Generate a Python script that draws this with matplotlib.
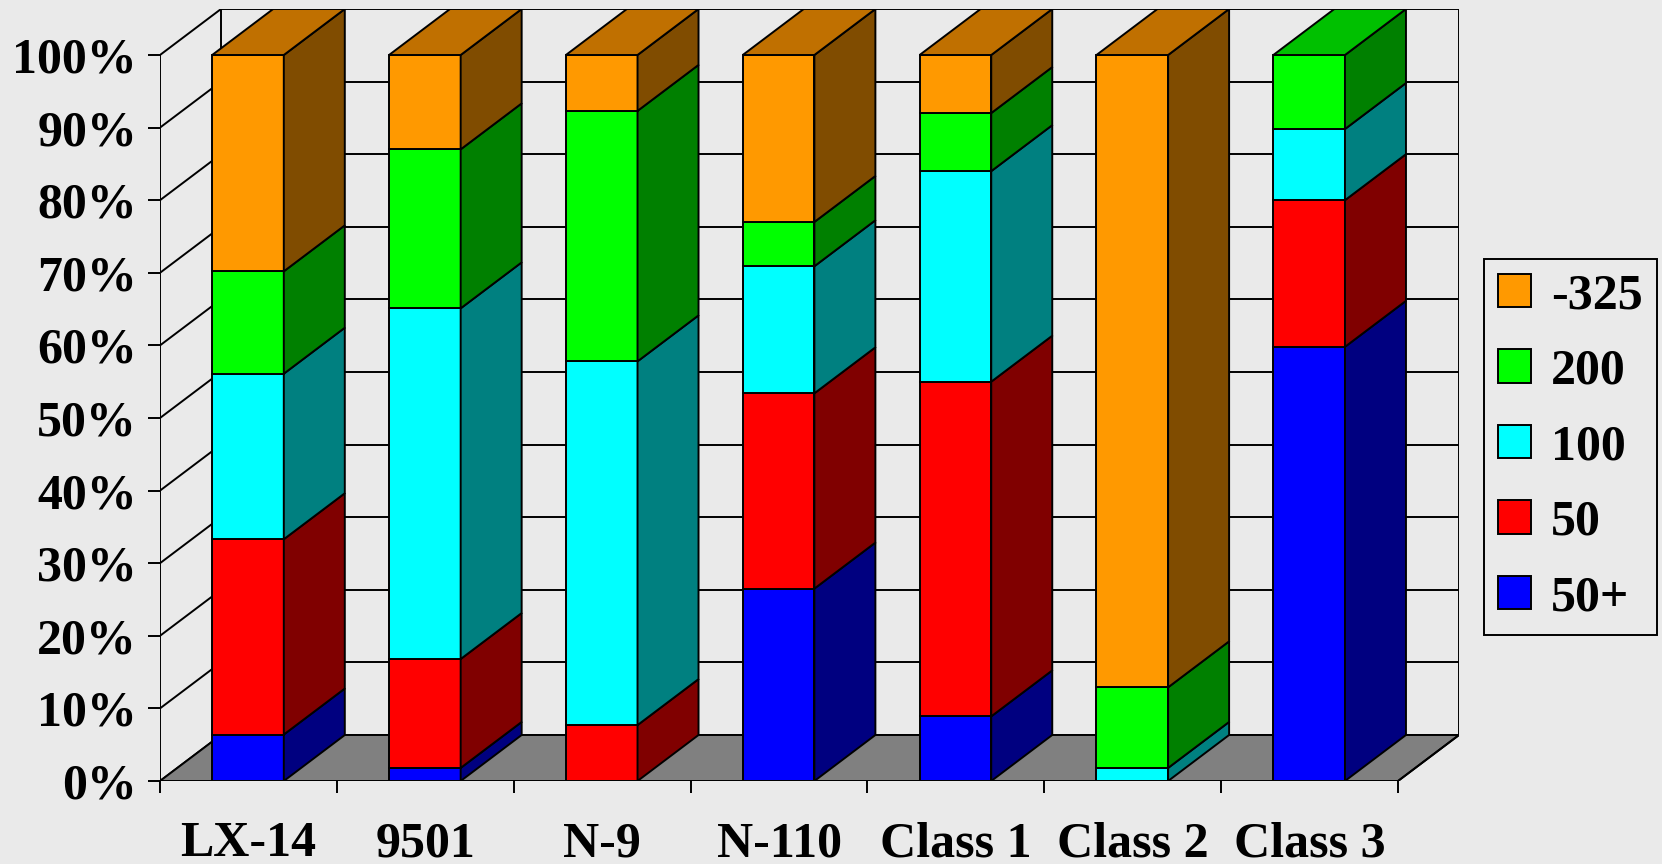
import matplotlib
matplotlib.use('Agg')
import matplotlib.pyplot as plt
from matplotlib.patches import Polygon, Patch
import numpy as np

# Kategorier og andeler (prosent) for hver fraksjon, nederst til øverst
kategorier = ['LX-14', '9501', 'N-9', 'N-110', 'Class 1', 'Class 2', 'Class 3']
serier = ['50+', '50', '100', '200', '-325']
verdier = {
    '50+':  [6.4, 1.8, 0.0, 26.5, 8.9, 0.0, 59.8],
    '50':   [26.9, 15.0, 7.7, 26.9, 46.1, 0.0, 20.2],
    '100':  [22.8, 48.3, 50.1, 17.5, 29.0, 1.8, 9.8],
    '200':  [14.1, 21.9, 34.5, 6.1, 8.0, 11.1, 10.2],
    '-325': [29.8, 13.0, 7.7, 23.0, 8.0, 87.1, 0.0],
}

# Farger: forside, side, topp
farge_front = {'50+': '#0000FF', '50': '#FF0000', '100': '#00FFFF', '200': '#00FF00', '-325': '#FF9900'}
farge_side = {'50+': '#000080', '50': '#800000', '100': '#008080', '200': '#008000', '-325': '#804C00'}
farge_topp = {'50+': '#0000C0', '50': '#C00000', '100': '#00C0C0', '200': '#00C000', '-325': '#C07000'}

BG = '#EAEAEA'
LW = 1.4

W, H = 1662, 864
px_x = 176.86   # piksler per kategori
px_y = 7.26     # piksler per prosentpoeng
dx = 61 / px_x  # dybde i kategorienheter
dy = 46 / px_y  # dybde i prosentenheter
n = len(kategorier)

fig = plt.figure(figsize=(W / 100, H / 100), dpi=100, facecolor=BG)
ax = fig.add_axes([160 / W, 83 / H, (n + dx) * px_x / W, (100 + dy) * px_y / H])
ax.set_xlim(0, n + dx)
ax.set_ylim(0, 100 + dy)
ax.patch.set_visible(False)
for s in ax.spines.values():
    s.set_visible(False)

# Bakvegg med rutenett
for v in range(0, 101, 10):
    ax.plot([dx, n + dx], [v + dy, v + dy], color='black', lw=LW, zorder=1, solid_capstyle='butt')
    ax.plot([0, dx], [v, v + dy], color='black', lw=LW, zorder=1)
ax.plot([dx, dx], [dy, 100 + dy], color='black', lw=LW, zorder=1)
ax.plot([n + dx, n + dx], [dy, 100 + dy], color='black', lw=LW, zorder=1)

# Gulv
gulv = Polygon([(0, 0), (n, 0), (n + dx, dy), (dx, dy)], closed=True,
               facecolor='#808080', edgecolor='black', lw=LW, zorder=2)
ax.add_patch(gulv)
ax.plot([0, 0], [0, 100], color='black', lw=LW, zorder=2)

# Søyler
bredde = 0.405
forskyv = 0.295
totalt = np.sum([verdier[s] for s in serier], axis=0)
for i in range(n):
    x0 = i + forskyv
    x1 = x0 + bredde
    bunn = 0.0
    topp_serie = None
    for s in serier:
        andel = verdier[s][i] / totalt[i] * 100
        if andel <= 0:
            continue
        t = bunn + andel
        ax.add_patch(Polygon([(x0, bunn), (x1, bunn), (x1, t), (x0, t)], closed=True,
                             facecolor=farge_front[s], edgecolor='black', lw=LW, zorder=3))
        ax.add_patch(Polygon([(x1, bunn), (x1 + dx, bunn + dy), (x1 + dx, t + dy), (x1, t)], closed=True,
                             facecolor=farge_side[s], edgecolor='black', lw=LW, zorder=3))
        bunn = t
        topp_serie = s
    ax.add_patch(Polygon([(x0, bunn), (x1, bunn), (x1 + dx, bunn + dy), (x0 + dx, bunn + dy)], closed=True,
                         facecolor=farge_topp[topp_serie], edgecolor='black', lw=LW, zorder=3))

ax.plot([0, n], [0, 0], color='black', lw=LW, zorder=4)
ax.plot([n, n + dx], [0, dy], color='black', lw=LW, zorder=4)

font = dict(family='Liberation Serif', weight='bold', size=36)

ax.set_yticks(range(0, 101, 10))
ax.set_yticklabels([f'{v}%' for v in range(0, 101, 10)], fontdict=font)
ax.tick_params(axis='y', direction='out', length=8.5, width=LW, pad=8, colors='black')

ax.set_xticks(range(n + 1))
ax.set_xticklabels([''] * (n + 1))
ax.tick_params(axis='x', which='major', direction='out', length=8.5, width=LW)
ax.set_xticks(np.arange(n) + 0.5, minor=True)
ax.set_xticklabels(kategorier, minor=True, fontdict=font)
ax.tick_params(axis='x', which='minor', length=0, pad=29)

handles = [Patch(facecolor=farge_front[s], edgecolor='black', lw=LW, label=s) for s in serier[::-1]]
leg = fig.legend(handles=handles, loc='upper left', bbox_to_anchor=(1484 / W, 1 - 259 / H),
                 prop=dict(family='Liberation Serif', weight='bold', size=36),
                 frameon=True, fancybox=False, facecolor=BG, edgecolor='black', framealpha=1,
                 handlelength=0.66, handleheight=0.66, handletextpad=0.4,
                 labelspacing=0.59, borderpad=0.28, borderaxespad=0)
leg.get_frame().set_linewidth(LW)

fig.savefig('out.png', dpi=100, facecolor=BG)
